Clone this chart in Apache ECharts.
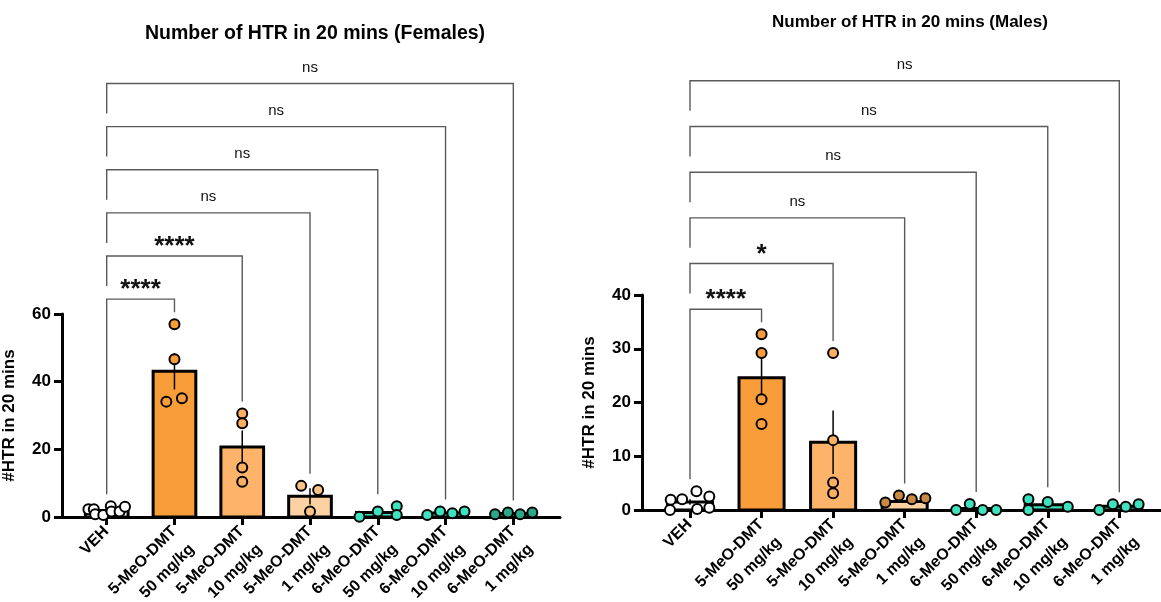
<!DOCTYPE html>
<html>
<head>
<meta charset="utf-8">
<title>Number of HTR in 20 mins</title>
<script src="https://cdn.jsdelivr.net/npm/echarts@6/dist/echarts.min.js"></script>
<style>
  html, body { margin: 0; padding: 0; background: #fff; }
  #chart { width: 1161px; height: 602px; }
</style>
</head>
<body>
<div id="chart"></div>
<script>
// Treatment groups (shared by both panels)
const categories = [
  'VEH',
  '5-MeO-DMT\n50 mg/kg',
  '5-MeO-DMT\n10 mg/kg',
  '5-MeO-DMT\n1 mg/kg',
  '6-MeO-DMT\n50 mg/kg',
  '6-MeO-DMT\n10 mg/kg',
  '6-MeO-DMT\n1 mg/kg'
];

// Females: group means, SEM, individual animals and their horizontal spread
const femaleMeans = [1.9, 43.1, 20.7, 6.1, 1.3, 1.2, 1.0];
const femaleSem = [0.35, 5.4, 4.9, 2.4, 0.7, 0.25, 0.15];
const femaleValues = [
  [2.3, 2.3, 0.8, 0.6, 3.2, 1.6, 1.6, 3.0],
  [57, 46.6, 34.1, 35.1],
  [30.6, 27.7, 14.6, 10.4],
  [9.2, 8.0, 1.6],
  [0.1, 1.6, 3.2, 0.6],
  [0.6, 1.6, 1.1, 1.6],
  [0.8, 1.3, 0.8, 1.3]
];
const femaleSpread = [
  [-0.27, -0.19, -0.17, -0.05, 0.06, 0.07, 0.19, 0.27],
  [0, 0, -0.12, 0.11],
  [0, 0, 0, 0],
  [-0.13, 0.12, 0],
  [-0.27, 0, 0.28, 0.28],
  [-0.27, -0.08, 0.1, 0.28],
  [-0.27, -0.08, 0.1, 0.28]
];
const femaleSig = ['****', '****', 'ns', 'ns', 'ns', 'ns'];

// Males
const maleMeans = [1.5, 24.6, 12.6, 1.6, 0.3, 1.0, 0.7];
const maleSem = [0.5, 3.8, 5.9, 0.3, 0.3, 0.5, 0.25];
const maleValues = [
  [1.9, 2.0, 3.5, 2.5, 0, 0.2, 0.4],
  [32.7, 29.2, 20.6, 16.0],
  [29.2, 13.0, 5.1, 3.1],
  [1.4, 2.7, 2.0, 2.2],
  [0, 1.1, 0, 0],
  [2.0, 0, 1.5, 0.6],
  [0, 1.05, 0.6, 1.05]
];
const maleSpread = [
  [-0.27, -0.11, 0.09, 0.27, -0.28, 0.1, 0.27],
  [0, 0, 0, 0],
  [0, 0, 0, 0],
  [-0.27, -0.08, 0.1, 0.29],
  [-0.28, -0.09, 0.09, 0.28],
  [-0.27, -0.27, 0, 0.28],
  [-0.28, -0.09, 0.09, 0.27]
];
const maleSig = ['****', '*', 'ns', 'ns', 'ns', 'ns'];

// Fill colours per group
const barColors = ['#ffffff', '#f99d3b', '#fdb46a', '#fdd2a2', '#3fe0bf', '#3fe0bf', '#3fe0bf'];
const femaleDotColors = ['#ffffff', '#f99d3b', '#fdb062', '#fcc387', '#3de2bf', '#3de2bf', '#2ba88a'];
const maleDotColors = ['#ffffff', '#f99d3b', '#fdb062', '#c98a44', '#3de2bf', '#3de2bf', '#3de2bf'];

const FONT = 'Liberation Sans, Arial, Helvetica, sans-serif';

// Panel geometry: plot area plus the band occupied by the seven groups
const panels = [
  { left: 62, top: 314, width: 498, height: 203, first: 106.7, band: 67.77, yMax: 60, yStep: 20 },
  { left: 642, top: 295, width: 519, height: 215, first: 690, band: 71.55, yMax: 40, yStep: 10 }
];

const grids = [];
const xAxes = [];
const yAxes = [];
panels.forEach((p, k) => {
  const xMin = -(p.first - p.left) / p.band;
  const xMax = (p.left + p.width - p.first) / p.band;
  // data grid: numeric x so groups can be spread horizontally
  grids.push({ left: p.left, top: p.top, width: p.width, height: p.height, containLabel: false, outerBoundsMode: 'none' });
  xAxes.push({
    type: 'value', gridIndex: 2 * k, min: xMin, max: xMax,
    splitLine: { show: false }, axisTick: { show: false }, axisLabel: { show: false },
    axisLine: { show: true, onZero: false, lineStyle: { color: '#000', width: 3 } }
  });
  yAxes.push({
    type: 'value', gridIndex: 2 * k, min: 0, max: p.yMax, interval: p.yStep,
    name: '#HTR in 20 mins', nameLocation: 'middle', nameGap: 44,
    nameTextStyle: { fontSize: 17, fontWeight: 'bold', color: '#000', fontFamily: FONT },
    splitLine: { show: false },
    axisLine: { show: true, onZero: false, lineStyle: { color: '#000', width: 3 } },
    axisTick: { show: true, length: 8, lineStyle: { color: '#000', width: 3 } },
    axisLabel: { fontSize: 17, fontWeight: 'bold', color: '#000', margin: 11, fontFamily: FONT }
  });
  // label grid: category axis spanning exactly the seven group bands
  grids.push({ left: p.first - p.band / 2, top: p.top, width: p.band * categories.length, height: p.height,
    containLabel: false, outerBoundsMode: 'none' });
  xAxes.push({
    type: 'category', gridIndex: 2 * k + 1, data: categories,
    axisLine: { show: false },
    axisTick: { show: true, alignWithLabel: true, length: 8, lineStyle: { color: '#000', width: 3 } },
    axisLabel: {
      interval: 0, rotate: 45, fontSize: 16, fontWeight: 'bold', color: '#000',
      lineHeight: 25, margin: -6, verticalAlign: 'top', padding: [0, 13, 0, 0], fontFamily: FONT
    }
  });
  yAxes.push({ type: 'value', gridIndex: 2 * k + 1, min: 0, max: p.yMax, show: false });
});

// Bars with mean ± SEM whiskers
function barSeries(axisIndex, means, sem) {
  return {
    type: 'custom', xAxisIndex: axisIndex, yAxisIndex: axisIndex, z: 2,
    data: means.map((m, i) => [i, m, sem[i]]),
    renderItem(params, api) {
      const g = api.value(0), mean = api.value(1), s = api.value(2);
      const band = api.size([1, 0])[0];
      const w = band * 0.63;
      const top = api.coord([g, mean]);
      const base = api.coord([g, 0])[1];
      const hi = api.coord([g, mean + s])[1];
      const lo = api.coord([g, Math.max(0, mean - s)])[1];
      return {
        type: 'group',
        children: [
          { type: 'rect', shape: { x: top[0] - w / 2, y: top[1], width: w, height: base - top[1] },
            style: { fill: barColors[g], stroke: '#000', lineWidth: 3 } },
          { type: 'line', shape: { x1: top[0], y1: hi, x2: top[0], y2: lo },
            style: { stroke: '#000', lineWidth: 1.5 } }
        ]
      };
    }
  };
}

// Individual animals
function dotSeries(axisIndex, values, spread, colors) {
  const data = [];
  values.forEach((grp, g) => grp.forEach((v, k) => {
    data.push({ value: [g + spread[g][k], v], itemStyle: { color: colors[g] } });
  }));
  return {
    type: 'scatter', xAxisIndex: axisIndex, yAxisIndex: axisIndex, z: 3,
    symbol: 'circle', symbolSize: 10, clip: false,
    itemStyle: { borderColor: '#000', borderWidth: 2, opacity: 1 },
    data
  };
}

// Comparison brackets: VEH against each treatment
function bracketSeries(axisIndex, values, yMax, sig) {
  const groupMax = values.map(v => Math.max(...v));
  const allMax = Math.max(...groupMax);
  return {
    type: 'custom', xAxisIndex: axisIndex, yAxisIndex: axisIndex, z: 1, clip: false,
    silent: true,
    data: sig.map((s, i) => [i]),
    renderItem(params, api) {
      const i = api.value(0);
      const g = i + 1;
      const plotH = api.coord([0, 0])[1] - api.coord([0, yMax])[1];
      const level = api.coord([0, allMax])[1] - 25 - i * 0.2125 * plotH;
      const x0 = api.coord([0, 0])[0];
      const x1 = api.coord([g, 0])[0];
      const leftEnd = i === 0 ? api.coord([0, groupMax[0]])[1] - 12 : level + 30;
      const rightEnd = api.coord([g, groupMax[g]])[1] - 12;
      const isStar = sig[i].indexOf('*') >= 0;
      return {
        type: 'group',
        children: [
          { type: 'polyline', shape: { points: [[x0, leftEnd], [x0, level], [x1, level], [x1, rightEnd]] },
            style: { stroke: '#5a5a5a', lineWidth: 1.4, fill: null } },
          { type: 'text',
            style: {
              x: (x0 + x1) / 2, y: isStar ? level - 9 : level - 16,
              text: sig[i], align: 'center', verticalAlign: 'middle',
              font: isStar ? 'bold 26px ' + FONT : '15px ' + FONT, fill: '#111'
            } }
        ]
      };
    }
  };
}

const chart = echarts.init(document.getElementById('chart'), null, { renderer: 'canvas' });
chart.setOption({
  backgroundColor: '#ffffff',
  animation: false,
  textStyle: { fontFamily: FONT },
  title: [
    { text: 'Number of HTR in 20 mins (Females)', left: 310, top: 19, textAlign: 'center',
      textStyle: { fontSize: 19.5, fontWeight: 'bold', color: '#000', fontFamily: FONT } },
    { text: 'Number of HTR in 20 mins (Males)', left: 905, top: 9, textAlign: 'center',
      textStyle: { fontSize: 17, fontWeight: 'bold', color: '#000', fontFamily: FONT } }
  ],
  grid: grids,
  xAxis: xAxes,
  yAxis: yAxes,
  series: [
    bracketSeries(0, femaleValues, 60, femaleSig),
    barSeries(0, femaleMeans, femaleSem),
    dotSeries(0, femaleValues, femaleSpread, femaleDotColors),
    bracketSeries(2, maleValues, 40, maleSig),
    barSeries(2, maleMeans, maleSem),
    dotSeries(2, maleValues, maleSpread, maleDotColors)
  ]
});
</script>
</body>
</html>
